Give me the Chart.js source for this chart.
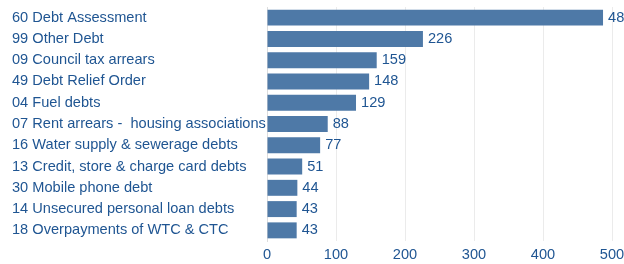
<!DOCTYPE html>
<html>
<head>
<meta charset="utf-8">
<script src="https://cdn.jsdelivr.net/npm/chart.js@4/dist/chart.umd.min.js"></script>
<style>
  body { margin: 0; background: #fff; }
  #wrap { width: 624px; height: 264px; }
</style>
</head>
<body>
<div id="wrap"><canvas id="chart" width="624" height="264"></canvas></div>
<script>
const categories = [
  "60 Debt Assessment",
  "99 Other Debt",
  "09 Council tax arrears",
  "49 Debt Relief Order",
  "04 Fuel debts",
  "07 Rent arrears -  housing associations",
  "16 Water supply & sewerage debts",
  "13 Credit, store & charge card debts",
  "30 Mobile phone debt",
  "14 Unsecured personal loan debts",
  "18 Overpayments of WTC & CTC",
];
const counts = [487, 226, 159, 148, 129, 88, 77, 51, 44, 43, 43];
const xTicks = [0, 100, 200, 300, 400, 500];

const textColor = "#1f5592";
const barColor = "#4e79a7";
const fontFamily = "'Liberation Sans', Arial, sans-serif";

// draws the value just after the end of each bar
const valueLabels = {
  id: "valueLabels",
  afterDatasetsDraw(chart) {
    const ctx = chart.ctx;
    const meta = chart.getDatasetMeta(0);
    ctx.save();
    ctx.font = "14.6px " + fontFamily;
    ctx.fillStyle = textColor;
    ctx.textAlign = "left";
    ctx.textBaseline = "middle";
    meta.data.forEach((bar, i) => {
      ctx.fillText(String(counts[i]), bar.x + 5, bar.y);
    });
    ctx.restore();
  },
};

new Chart(document.getElementById("chart"), {
  type: "bar",
  data: {
    labels: categories,
    datasets: [
      {
        data: counts,
        backgroundColor: barColor,
        categoryPercentage: 1,
        barPercentage: 0.75,
      },
    ],
  },
  options: {
    indexAxis: "y",
    responsive: false,
    animation: false,
    layout: { padding: { left: 12, right: 12, top: 7, bottom: 0 } },
    plugins: { legend: { display: false }, tooltip: { enabled: false } },
    scales: {
      x: {
        min: 0,
        max: 500,
        afterBuildTicks(scale) {
          scale.ticks = xTicks.map((v) => ({ value: v }));
        },
        afterFit(scale) {
          scale.height = 23;
          scale.paddingLeft = 0;
          scale.paddingRight = 0;
        },
        grid: { color: "#ebebeb", drawTicks: false },
        border: { display: false },
        ticks: {
          color: textColor,
          padding: 5.5,
          font: { family: fontFamily, size: 14.6 },
        },
      },
      y: {
        grid: { display: false },
        border: { color: "#dddddd" },
        afterFit(scale) {
          scale.width = 255;
          scale.paddingTop = 0;
          scale.paddingBottom = 0;
        },
        ticks: {
          color: textColor,
          crossAlign: "far",
          autoSkip: false,
          font: { family: fontFamily, size: 14.6 },
        },
      },
    },
  },
  plugins: [valueLabels],
});
</script>
</body>
</html>
